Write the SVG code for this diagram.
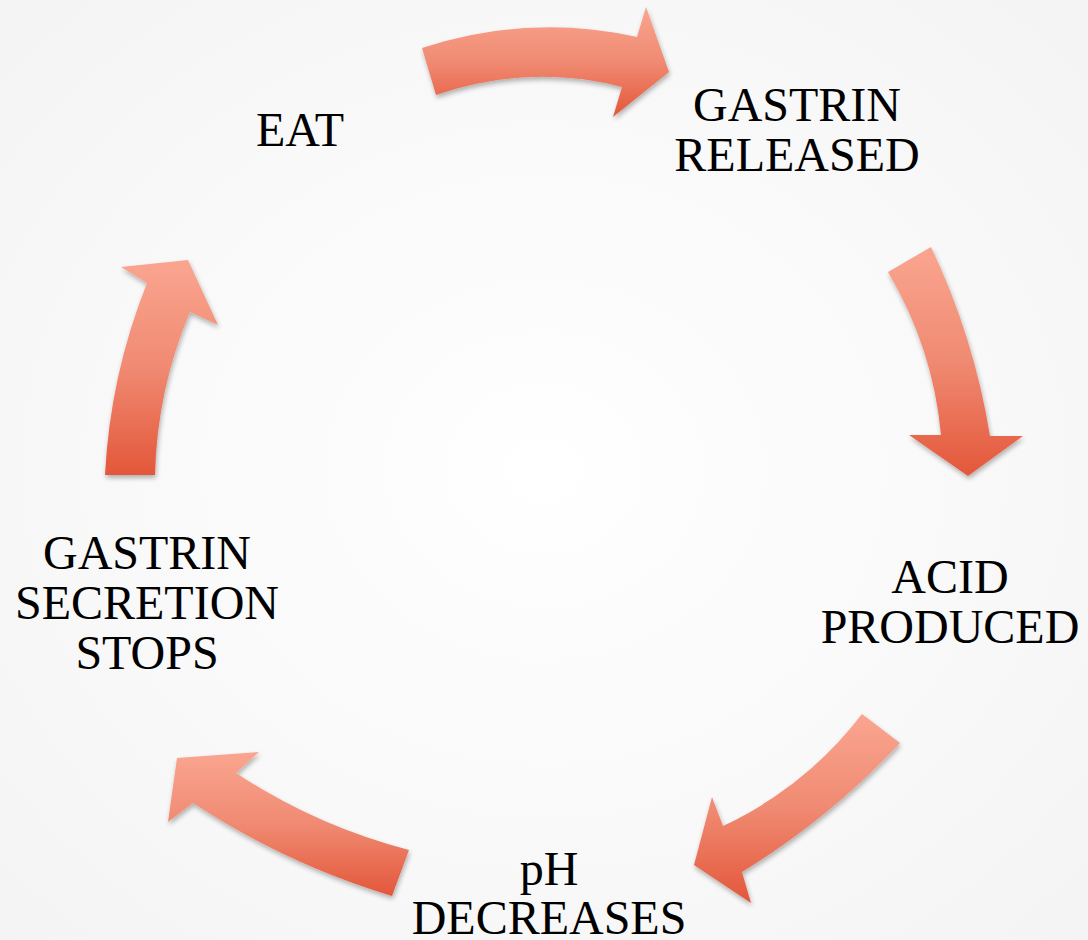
<svg xmlns="http://www.w3.org/2000/svg" width="1088" height="940" viewBox="0 0 1088 940">
  <defs>
    <radialGradient id="bg" cx="50%" cy="50%" r="70%">
      <stop offset="0" stop-color="#ffffff"/>
      <stop offset="1" stop-color="#f4f4f4"/>
    </radialGradient>
    <linearGradient id="arrowFill" x1="0" y1="0" x2="0" y2="1">
      <stop offset="0" stop-color="#faa590"/>
      <stop offset="0.5" stop-color="#f08a72"/>
      <stop offset="1" stop-color="#e3573a"/>
    </linearGradient>
    <filter id="shadow" x="-20%" y="-20%" width="140%" height="140%">
      <feGaussianBlur in="SourceAlpha" stdDeviation="2.5"/>
      <feOffset dx="1" dy="3" result="b"/>
      <feComponentTransfer><feFuncA type="linear" slope="0.3"/></feComponentTransfer>
      <feMerge><feMergeNode/><feMergeNode in="SourceGraphic"/></feMerge>
    </filter>
    <style>
      .arrow { fill: url(#arrowFill); filter: url(#shadow); }
      .label { font-family: "Liberation Serif", "Times New Roman", serif; font-size: 48px; fill: #000; text-anchor: middle; }
    </style>
  </defs>
  <rect x="0" y="0" width="1088" height="940" fill="url(#bg)"/>

  <g id="connectors">
    <path class="arrow" d="M422,48 Q530,13 637,37 L646,7 L669,72 L613,117 L622,87 Q531,63 436,95 Z"/>
    <path class="arrow" d="M888,272 L931,247 Q974,337 990,436 L1023,436 L968,476 L909,435 L941,435 Q933,348 888,272 Z"/>
    <path class="arrow" d="M862,714 L900,743 Q830,818 742,872 L751,903 L694,865 L712,797 L723,826 Q806,787 862,714 Z"/>
    <path class="arrow" d="M409,850 L392,896 Q286,864 193,803 L168,822 L177,758 L259,752 L236,773 Q316,826 409,850 Z"/>
    <path class="arrow" d="M105,475 L155,475 Q157,390 190,312 L218,325 L188,260 L121,267 L147,283 Q110,376 105,475 Z"/>
  </g>

  <g id="node-eat">
    <text class="label" x="300" y="146">EAT</text>
  </g>
  <g id="node-gastrin-released">
    <text class="label" x="797" y="121">GASTRIN</text>
    <text class="label" x="797" y="171">RELEASED</text>
  </g>
  <g id="node-acid-produced">
    <text class="label" x="950" y="593">ACID</text>
    <text class="label" x="950" y="643">PRODUCED</text>
  </g>
  <g id="node-ph-decreases">
    <text class="label" x="549" y="885">pH</text>
    <text class="label" x="549" y="934">DECREASES</text>
  </g>
  <g id="node-gastrin-stops">
    <text class="label" x="147" y="569">GASTRIN</text>
    <text class="label" x="147" y="619">SECRETION</text>
    <text class="label" x="147" y="669">STOPS</text>
  </g>
</svg>
